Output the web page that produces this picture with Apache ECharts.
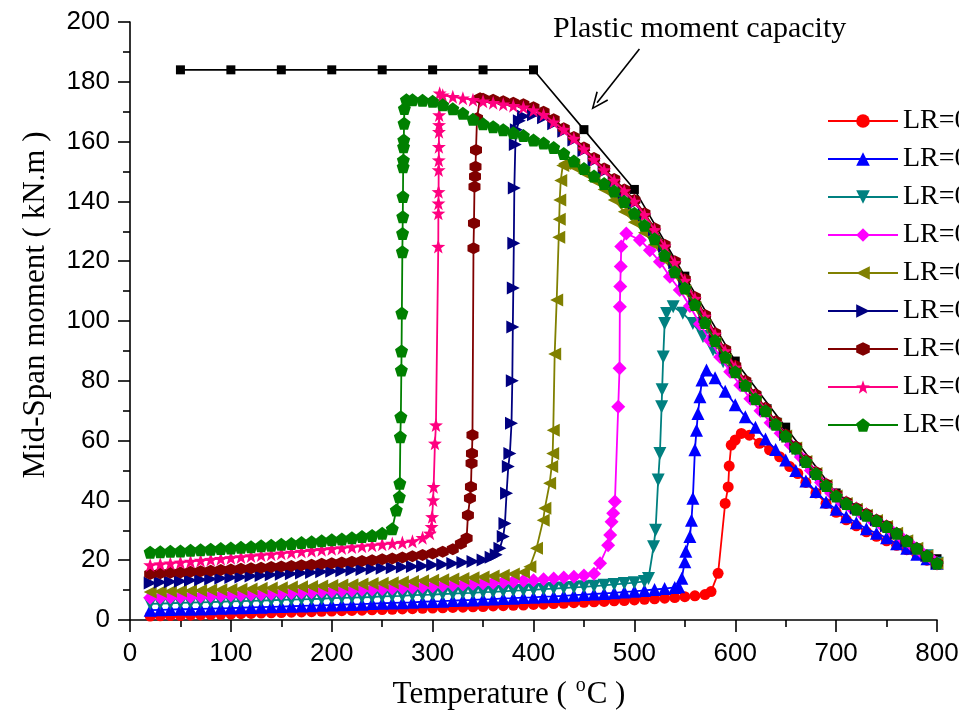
<!DOCTYPE html>
<html>
<head>
<meta charset="utf-8">
<script src="https://cdn.jsdelivr.net/npm/echarts@6/dist/echarts.min.js"></script>
<style>
  html, body { margin: 0; padding: 0; background: #fff; }
  #chart { width: 975px; height: 713px; }
</style>
</head>
<body>
<div id="chart"></div>
<script>
// Mid-span moment vs temperature for nine load ratios, with the plastic capacity curve.
const lrNames = ['LR=0.1', 'LR=0.2', 'LR=0.3', 'LR=0.4', 'LR=0.5', 'LR=0.6', 'LR=0.7', 'LR=0.8', 'LR=0.9'];

const xTicks = { min: 0, max: 800, interval: 100 };
const yTicks = { min: 0, max: 200, interval: 20 };

// Plastic moment capacity (kN.m) against temperature (°C)
const capacity = [[50,184],[100,184],[150,184],[200,184],[250,184],[300,184],[350,184],[400,184],
  [450,164],[500,144],[550,115],[600,86.6],[650,64.5],[700,42.5],[750,31.5],[800,20.5]];

const lr01 = [[20,1.3],[30,1.4],[40,1.5],[50,1.5],[60,1.6],[70,1.7],[80,1.8],[90,1.9],[100,2.0],[110,2.1],[120,2.2],[130,2.3],[140,2.4],[150,2.5],[160,2.6],[170,2.7],[180,2.8],[190,2.9],[200,3.0],[210,3.1],[220,3.2],[230,3.3],[240,3.4],[250,3.5],[260,3.6],[270,3.7],[280,3.8],[290,3.9],[300,4.0],[310,4.1],[320,4.2],[330,4.3],[340,4.4],[350,4.5],[360,4.7],[370,4.8],[380,4.9],[390,5.0],[400,5.2],[410,5.3],[420,5.5],[430,5.6],[440,5.8],[450,5.9],[460,6.1],[470,6.2],[480,6.4],[490,6.5],[500,6.7],[510,6.9],[520,7.1],[530,7.3],[540,7.5],[550,7.8],[560,8.1],[570,8.5],
  [576,9.5],[583,15.6],[590,39.0],[593,44.5],[594,51.5],[596,58.5],[600,60.2],[606,62.4],[614,61.8],[624,59.1],[634,56.9],[644,54.6],[654,51.3],[662,49.0],[670,46.0],[680,42.5],[690,39.0],[700,36.0],[710,33.5],[720,31.5],[730,29.5],[740,28.0],[750,26.5],[760,25.0],[770,23.5],[780,22.0],[790,20.0],[800,18.5]];

const lr02 = [[20,3.3],[30,3.4],[40,3.5],[50,3.6],[60,3.6],[70,3.7],[80,3.8],[90,3.9],[100,4.0],[110,4.1],[120,4.2],[130,4.3],[140,4.4],[150,4.5],[160,4.6],[170,4.7],[180,4.8],[190,4.9],[200,5.0],[210,5.1],[220,5.2],[230,5.3],[240,5.5],[250,5.6],[260,5.7],[270,5.8],[280,5.9],[290,6.1],[300,6.2],[310,6.3],[320,6.5],[330,6.6],[340,6.7],[350,6.9],[360,7.0],[370,7.2],[380,7.3],[390,7.5],[400,7.6],[410,7.8],[420,7.9],[430,8.1],[440,8.3],[450,8.5],[460,8.7],[470,8.9],[480,9.1],[490,9.4],[500,9.6],[510,9.9],[520,10.2],[530,10.5],[540,10.9],
  [544,11.1],[547,14.0],[550,19.5],[551,23.0],[555,27.9],[556.6,33.4],[558,40.7],[560,56.9],[561.6,63.5],[563,69.1],[565,74.7],[567,80.3],[571.5,83.6],[580,81.0],[590,76.5],[600,72.0],[610,68.0],[620,64.5],[630,60.5],[640,57.0],[650,53.5],[660,50.0],[670,46.5],[680,43.0],[690,39.5],[700,37.0],[710,34.5],[720,32.5],[730,30.5],[740,29.0],[750,27.5],[760,25.5],[770,24.0],[780,22.0],[790,20.5],[800,19.0]];

const lr03 = [[20,5.4],[30,5.5],[40,5.6],[50,5.7],[60,5.8],[70,5.9],[80,6.0],[90,6.1],[100,6.2],[110,6.3],[120,6.4],[130,6.5],[140,6.6],[150,6.7],[160,6.8],[170,6.9],[180,7.0],[190,7.1],[200,7.3],[210,7.4],[220,7.5],[230,7.6],[240,7.7],[250,7.9],[260,8.0],[270,8.1],[280,8.3],[290,8.4],[300,8.5],[310,8.7],[320,8.8],[330,9.0],[340,9.1],[350,9.3],[360,9.4],[370,9.6],[380,9.8],[390,9.9],[400,10.1],[410,10.3],[420,10.5],[430,10.7],[440,10.9],[450,11.1],[460,11.3],[470,11.6],[480,11.9],[490,12.2],[500,12.5],[510,12.9],
  [514,13.9],[519,24.5],[521,30.0],[523.6,46.8],[525.3,55.7],[527,71.3],[527.5,77.0],[528.6,88.0],[530,99.2],[532,102.5],[538.5,104.8],[548,102.6],[558,99.2],[568,94.8],[578,90.3],[588,86.4],[598,83.0],[611,78.0],[620,74.0],[630,70.0],[640,65.5],[650,61.0],[660,56.5],[670,52.5],[680,48.0],[690,44.0],[700,41.0],[710,38.5],[720,36.5],[730,34.5],[740,32.5],[750,30.5],[760,28.5],[770,26.0],[780,23.5],[790,21.5],[800,19.0]];

const lr04 = [[20,7.4],[30,7.5],[40,7.6],[50,7.7],[60,7.8],[70,7.9],[80,8.0],[90,8.1],[100,8.3],[110,8.4],[120,8.5],[130,8.6],[140,8.8],[150,8.9],[160,9.0],[170,9.2],[180,9.3],[190,9.5],[200,9.6],[210,9.8],[220,9.9],[230,10.1],[240,10.2],[250,10.4],[260,10.5],[270,10.7],[280,10.9],[290,11.1],[300,11.3],[310,11.5],[320,11.7],[330,11.9],[340,12.1],[350,12.3],[360,12.5],[370,12.7],[380,12.9],[390,13.1],[400,13.3],[410,13.6],[420,13.9],[430,14.2],[440,14.5],[450,14.9],[460,15.5],
  [466,19.0],[474,25.0],[476,28.4],[477.4,32.9],[479,35.7],[480.7,39.6],[484,71.3],[485.3,84.2],[485.6,104.8],[486,111.5],[486.5,118.2],[487,124.9],[492,129.3],[505.5,127.1],[515.4,123.7],[525.3,119.8],[535.2,114.8],[545,110.4],[555,105.0],[565,99.0],[575,93.5],[585,88.0],[595,83.0],[605,78.5],[615,74.0],[625,70.0],[635,66.0],[645,62.5],[655,58.5],[665,54.5],[675,50.0],[685,46.0],[695,42.5],[705,39.5],[715,37.5],[725,35.5],[735,33.5],[745,31.8],[755,29.8],[765,27.5],[775,25.0],[785,22.5],[795,20.3],[800,19.0]];

const lr05 = [[20,9.4],[30,9.5],[40,9.6],[50,9.7],[60,9.8],[70,9.9],[80,10.0],[90,10.1],[100,10.2],[110,10.3],[120,10.4],[130,10.6],[140,10.7],[150,10.8],[160,11.0],[170,11.1],[180,11.2],[190,11.4],[200,11.5],[210,11.7],[220,11.8],[230,12.0],[240,12.2],[250,12.3],[260,12.5],[270,12.7],[280,12.9],[290,13.1],[300,13.3],[310,13.5],[320,13.7],[330,13.9],[340,14.1],[350,14.4],[360,14.7],[370,15.0],[380,15.4],[390,16.0],
  [396.4,17.8],[403,24.0],[409.6,33.4],[411.3,37.4],[416,45.7],[418,51.3],[419,55.7],[419.6,63.5],[421,89.0],[423,107.0],[425,128.0],[425.5,134.0],[426,140.5],[427,147.0],[429,152.0],[431,152.7],[440,151.5],[450,149.5],[460,147.0],[470,144.0],[480,140.5],[490,136.5],[500,133.0],[510,129.5],[520,125.5],[530,120.5],[540,115.5],[550,110.0],[560,104.5],[570,98.5],[580,92.5],[590,87.0],[600,82.5],[610,78.0],[620,73.5],[630,69.5],[640,65.5],[650,61.5],[660,57.5],[670,53.0],[680,49.0],[690,45.0],[700,41.5],[710,39.0],[720,37.0],[730,35.0],[740,33.3],[750,31.3],[760,29.0],[770,26.5],[780,24.0],[790,21.5],[800,19.0]];

const lr06 = [[20,12.4],[30,12.6],[40,12.8],[50,13.0],[60,13.3],[70,13.5],[80,13.7],[90,14.0],[100,14.2],[110,14.4],[120,14.7],[130,14.9],[140,15.1],[150,15.3],[160,15.5],[170,15.7],[180,15.9],[190,16.1],[200,16.3],[210,16.5],[220,16.7],[230,16.9],[240,17.1],[250,17.3],[260,17.5],[270,17.7],[280,17.9],[290,18.1],[300,18.4],[310,18.6],[320,18.9],[330,19.2],[340,19.6],[350,20.1],
  [358,21.0],[363,21.8],[366.7,24.0],[370,27.9],[371.7,32.3],[373.3,42.4],[375,51.3],[376.6,55.7],[378.2,65.8],[379,80.0],[379.5,98.0],[380,111.0],[380.5,126.0],[381,144.5],[382,159.0],[383,164.0],[386,167.0],[390,168.5],[400,169.0],[410,168.0],[420,166.0],[430,163.5],[440,160.5],[450,157.0],[460,153.5],[470,150.0],[480,146.5],[490,143.0],[500,139.5],[510,135.5],[520,130.5],[530,125.0],[540,119.5],[550,113.5],[560,107.5],[570,101.5],[580,95.5],[590,90.0],[600,84.5],[610,79.5],[620,75.0],[630,70.5],[640,66.5],[650,62.0],[660,58.0],[670,53.5],[680,49.5],[690,45.5],[700,42.0],[710,39.5],[720,37.5],[730,35.5],[740,33.5],[750,31.5],[760,29.0],[770,26.5],[780,24.0],[790,21.5],[800,19.0]];

const lr07 = [[20,15.4],[30,15.6],[40,15.8],[50,15.9],[60,16.1],[70,16.3],[80,16.5],[90,16.7],[100,16.9],[110,17.1],[120,17.3],[130,17.5],[140,17.7],[150,17.9],[160,18.1],[170,18.3],[180,18.5],[190,18.8],[200,19.0],[210,19.2],[220,19.5],[230,19.7],[240,20.0],[250,20.3],[260,20.6],[270,20.9],[280,21.3],[290,21.7],[300,22.2],[310,22.8],[320,23.7],
  [328,25.5],[333.7,27.3],[335,35.0],[337,40.7],[338,44.6],[338.6,52.4],[339,55.7],[339.5,61.9],[340.5,124.3],[341,132.7],[341.5,144.9],[342,148.3],[342.5,151.6],[343,157.2],[344,167.8],[347,174.5],[350,174.3],[360,174.0],[370,173.5],[380,173.0],[390,172.5],[400,171.5],[410,170.0],[420,167.5],[430,164.5],[440,161.5],[450,158.0],[460,154.5],[470,151.0],[480,147.5],[490,144.0],[500,140.5],[510,136.0],[520,131.0],[530,125.5],[540,120.0],[550,114.0],[560,108.0],[570,102.0],[580,96.0],[590,90.5],[600,85.0],[610,80.0],[620,75.5],[630,71.0],[640,66.5],[650,62.0],[660,58.0],[670,53.5],[680,49.5],[690,45.5],[700,42.0],[710,39.5],[720,37.5],[730,35.5],[740,33.5],[750,31.5],[760,29.0],[770,26.5],[780,24.0],[790,21.5],[800,19.0]];

const lr08 = [[20,18.4],[30,18.7],[40,19.0],[50,19.3],[60,19.6],[70,19.9],[80,20.2],[90,20.5],[100,20.8],[110,21.1],[120,21.4],[130,21.7],[140,22.0],[150,22.3],[160,22.6],[170,22.9],[180,23.2],[190,23.5],[200,23.8],[210,24.1],[220,24.4],[230,24.7],[240,25.0],[250,25.3],[260,25.6],[270,25.9],[280,26.3],
  [290,27.5],[297.3,29.0],[299,31.2],[299.5,34.5],[300.5,40.1],[301,44.6],[302.3,59.1],[303.3,65.2],[305.6,124.9],[305.7,136.0],[305.8,139.4],[305.9,143.2],[306,150.5],[306.1,153.8],[306.2,158.3],[306.3,163.3],[306.4,165.6],[306.5,168.9],[307,176.2],[310,175.5],[320,175.0],[330,174.5],[340,174.0],[350,173.5],[360,173.0],[370,172.5],[380,172.0],[390,171.5],[400,170.5],[410,169.0],[420,166.5],[430,164.0],[440,161.0],[450,157.5],[460,154.0],[470,150.5],[480,147.0],[490,143.5],[500,140.0],[510,135.5],[520,130.5],[530,125.0],[540,119.5],[550,113.5],[560,107.5],[570,101.5],[580,95.5],[590,90.0],[600,84.5],[610,79.5],[620,75.0],[630,70.5],[640,66.0],[650,61.5],[660,57.5],[670,53.5],[680,49.5],[690,45.5],[700,42.0],[710,39.5],[720,37.5],[730,35.5],[740,33.5],[750,31.5],[760,29.0],[770,26.5],[780,24.0],[790,21.5],[800,19.0]];

const lr09 = [[20,22.7],[30,22.8],[40,23.0],[50,23.1],[60,23.3],[70,23.5],[80,23.7],[90,23.9],[100,24.1],[110,24.3],[120,24.5],[130,24.8],[140,25.0],[150,25.3],[160,25.6],[170,25.9],[180,26.2],[190,26.5],[200,26.8],[210,27.1],[220,27.5],[230,27.9],[240,28.3],[250,29.0],[260,30.5],
  [264,36.8],[267,41.2],[267.5,45.7],[268,61.3],[268.5,68.0],[269,83.6],[269.2,90.0],[269.5,102.7],[270,123.2],[270.2,129.3],[270.4,134.9],[270.6,141.6],[270.8,151.6],[271,153.8],[271.2,158.3],[271.4,160.5],[271.7,166.1],[272,171.1],[274,174.0],[280,174.0],[290,173.8],[300,173.5],[310,172.3],[320,171.0],[330,169.5],[340,167.5],[350,166.0],[360,165.0],[370,164.0],[380,163.0],[390,162.0],[400,160.5],[410,159.5],[420,158.0],[430,156.0],[440,153.5],[450,151.0],[460,148.5],[470,146.0],[480,143.5],[490,140.0],[500,136.0],[510,132.0],[520,127.5],[530,122.0],[540,116.5],[550,111.0],[560,105.5],[570,99.5],[580,93.5],[590,88.0],[600,83.0],[610,78.5],[620,74.0],[630,70.0],[640,65.5],[650,61.5],[660,57.5],[670,53.0],[680,49.0],[690,45.0],[700,41.5],[710,39.0],[720,37.0],[730,35.0],[740,33.3],[750,31.3],[760,29.0],[770,26.5],[780,24.0],[790,21.5],[800,19.0]];

const lrData = [lr01, lr02, lr03, lr04, lr05, lr06, lr07, lr08, lr09];

// Arrow pointing from the annotation to the capacity curve (data units)
const arrowFrom = [505, 191];
const arrowTo = [463, 173];

// ---- styling ----
const SERIF = '"Liberation Serif", "Times New Roman", serif';
const SANS = '"Liberation Sans", Arial, sans-serif';

const HEXAGON = 'path://M0,-10L8.66,-5L8.66,5L0,10L-8.66,5L-8.66,-5Z';
const STAR = 'path://M0,-10L2.35,-3.24L9.51,-3.09L3.8,1.24L5.88,8.09L0,4L-5.88,8.09L-3.8,1.24L-9.51,-3.09L-2.35,-3.24Z';
const PENTAGON = 'path://M0,-10L9.51,-3.09L5.88,8.09L-5.88,8.09L-9.51,-3.09Z';
const CHEVRON = 'path://M0,0L7,16L5.6,16.6L0,3.6L-5.6,16.6L-7,16Z';

const looks = [
  { color: '#FF0000', symbol: 'circle', size: 11, rotate: 0 },
  { color: '#0000FF', symbol: 'triangle', size: 13, rotate: 0 },
  { color: '#008080', symbol: 'triangle', size: 13, rotate: 180 },
  { color: '#FF00FF', symbol: 'diamond', size: 14, rotate: 0 },
  { color: '#808000', symbol: 'triangle', size: 13, rotate: 90 },
  { color: '#000080', symbol: 'triangle', size: 13, rotate: -90 },
  { color: '#800000', symbol: HEXAGON, size: 12, rotate: 0 },
  { color: '#FF0080', symbol: STAR, size: 14, rotate: 0 },
  { color: '#008000', symbol: PENTAGON, size: 13, rotate: 0 }
];

const series = lrData.map((d, i) => ({
  name: lrNames[i],
  type: 'line',
  data: d,
  color: looks[i].color,
  symbol: looks[i].symbol,
  symbolSize: looks[i].size,
  symbolRotate: looks[i].rotate,
  showAllSymbol: true,
  clip: false,
  lineStyle: { width: 1.8, color: looks[i].color },
  itemStyle: { color: looks[i].color, borderWidth: 0 },
  emphasis: { disabled: true },
  animation: false,
  z: 3 + i
}));

series.unshift({
  name: 'capacity',
  type: 'line',
  data: capacity,
  symbol: 'rect',
  symbolSize: 9,
  showAllSymbol: true,
  clip: false,
  lineStyle: { width: 1.6, color: '#000' },
  itemStyle: { color: '#000' },
  emphasis: { disabled: true },
  animation: false,
  z: 2,
  markLine: {
    silent: true,
    animation: false,
    symbol: ['none', CHEVRON],
    symbolSize: [15, 18],
    lineStyle: { color: '#000', width: 1.6, type: 'solid' },
    label: { show: false },
    data: [[{ coord: arrowFrom }, { coord: arrowTo }]]
  }
});

const chart = echarts.init(document.getElementById('chart'), null, { renderer: 'canvas' });

chart.setOption({
  backgroundColor: '#fff',
  animation: false,
  grid: { left: 130, right: 38, top: 22, bottom: 93, containLabel: false },
  xAxis: {
    type: 'value',
    min: xTicks.min, max: xTicks.max, interval: xTicks.interval,
    axisLine: { show: true, onZero: false, lineStyle: { color: '#000', width: 1.6 } },
    axisTick: { show: true, inside: false, length: 12, lineStyle: { color: '#000', width: 1.6 } },
    minorTick: { show: true, splitNumber: 2, length: 7, lineStyle: { color: '#000', width: 1.6 } },
    splitLine: { show: false },
    axisLabel: { color: '#000', fontFamily: SANS, fontSize: 26, margin: 21 }
  },
  yAxis: {
    type: 'value',
    min: yTicks.min, max: yTicks.max, interval: yTicks.interval,
    axisLine: { show: true, onZero: false, lineStyle: { color: '#000', width: 1.6 } },
    axisTick: { show: true, inside: false, length: 12, lineStyle: { color: '#000', width: 1.6 } },
    minorTick: { show: true, splitNumber: 2, length: 7, lineStyle: { color: '#000', width: 1.6 } },
    splitLine: { show: false },
    axisLabel: { color: '#000', fontFamily: SANS, fontSize: 26, margin: 20 }
  },
  legend: {
    data: lrNames,
    orient: 'vertical',
    left: 822,
    top: 102,
    itemWidth: 70,
    itemHeight: 17,
    itemGap: 10,
    selectedMode: false,
    textStyle: { color: '#000', fontFamily: SERIF, fontSize: 28 }
  },
  graphic: [
    {
      type: 'text', x: 553, y: 44, z: 50,
      style: { text: 'Plastic moment capacity', font: '30px ' + SERIF, fill: '#000', textVerticalAlign: 'bottom' }
    },
    {
      type: 'text', x: 509, y: 710, z: 50,
      style: {
        text: '{a|Temperature ( }{s|o}{a|C )}',
        textAlign: 'center', textVerticalAlign: 'bottom',
        rich: {
          a: { font: '31px ' + SERIF, fill: '#000', verticalAlign: 'bottom' },
          s: { font: '20px ' + SERIF, fill: '#000', verticalAlign: 'bottom', padding: [0, 1, 14, 1] }
        }
      }
    },
    {
      type: 'text', x: 36, y: 305, rotation: Math.PI / 2, z: 50,
      style: { text: 'Mid-Span moment ( kN.m )', font: '31px ' + SERIF, fill: '#000', textAlign: 'center', textVerticalAlign: 'middle' }
    },
    {
      type: 'rect', z: 100, silent: true,
      shape: { x: 959, y: 0, width: 20, height: 713 },
      style: { fill: '#fff' }
    }
  ],
  series: series
});
</script>
</body>
</html>
